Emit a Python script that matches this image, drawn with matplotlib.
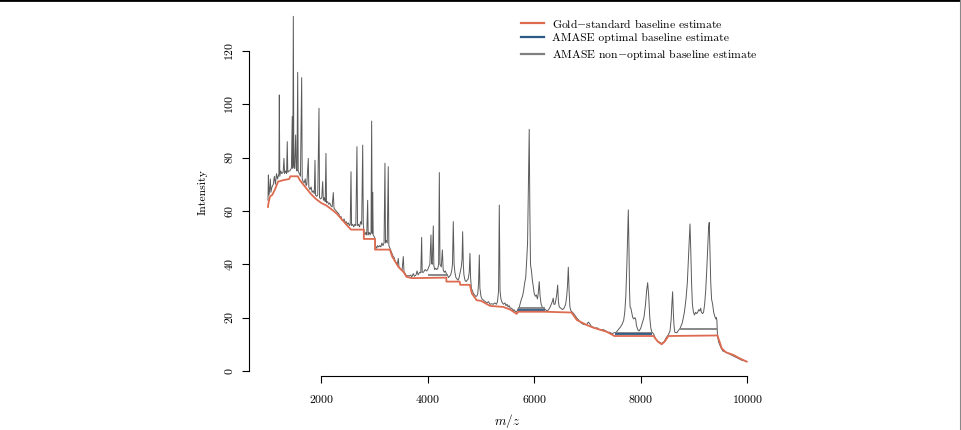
import matplotlib
matplotlib.use("Agg")
import matplotlib.pyplot as plt
from matplotlib.lines import Line2D

plt.rcParams['font.family'] = 'cmr10'
plt.rcParams['mathtext.fontset'] = 'cm'
plt.rcParams['axes.formatter.use_mathtext'] = True

# raw spectrum (m/z, intensity)
spec_mz = [1000, 1008, 1015, 1030, 1045, 1055, 1075, 1100, 1120, 1140, 1160, 1180, 1205, 1213, 1222,
           1240, 1260, 1285, 1300, 1312, 1330, 1350, 1362, 1372, 1390, 1410, 1440, 1456, 1466, 1476,
           1486, 1500, 1520, 1530, 1545, 1558, 1568, 1590, 1610, 1633, 1643, 1660, 1680, 1700, 1715,
           1730, 1757, 1767, 1790, 1810, 1830, 1850, 1870, 1883, 1893, 1915, 1935, 1958, 1968, 1990,
           2010, 2027, 2040, 2060, 2075, 2089, 2099, 2120, 2140, 2160, 2180, 2205, 2227, 2240, 2260,
           2280, 2300, 2330, 2350, 2370, 2390, 2410, 2430, 2450, 2470, 2490, 2510, 2530, 2545, 2559,
           2570, 2590, 2610, 2630, 2650, 2671, 2682, 2700, 2720, 2740, 2760, 2779, 2790, 2805, 2820,
           2840, 2855, 2872, 2882, 2900, 2920, 2935, 2947, 2958, 2966, 2976, 2990, 3005, 3020, 3040,
           3060, 3080, 3100, 3120, 3140, 3160, 3180, 3197, 3207, 3220, 3240, 3259, 3270, 3290, 3310,
           3330, 3350, 3370, 3390, 3410, 3430, 3447, 3460, 3480, 3500, 3520, 3541, 3555, 3570, 3590,
           3610, 3630, 3650, 3680, 3700, 3730, 3750, 3780, 3800, 3820, 3850, 3870, 3886, 3896, 3920,
           3950, 3980, 4000, 4020, 4040, 4061, 4072, 4085, 4105, 4115, 4130, 4150, 4170, 4190, 4205,
           4218, 4230, 4255, 4275, 4290, 4310, 4330, 4350, 4370, 4390, 4410, 4430, 4450, 4465, 4480,
           4495, 4510, 4530, 4550, 4570, 4590, 4610, 4630, 4645, 4656, 4668, 4680, 4700, 4720, 4740,
           4760, 4780, 4793, 4805, 4820, 4840, 4860, 4880, 4900, 4920, 4940, 4955, 4969, 4980, 5000,
           5020, 5050, 5080, 5110, 5140, 5170, 5200, 5230, 5260, 5290, 5310, 5330, 5344, 5358, 5375,
           5390, 5420, 5450, 5470, 5490, 5510, 5530, 5550, 5580, 5600, 5620, 5640, 5660, 5680, 5700,
           5720, 5740, 5760, 5780, 5800, 5820, 5840, 5860, 5875, 5890, 5906, 5918, 5930, 5945, 5953,
           5965, 5980, 6000, 6020, 6040, 6060, 6075, 6094, 6110, 6130, 6150, 6180, 6210, 6240, 6270,
           6300, 6320, 6340, 6357, 6370, 6390, 6410, 6425, 6440, 6455, 6470, 6500, 6530, 6560, 6590,
           6610, 6625, 6640, 6655, 6670, 6690, 6720, 6760, 6800, 6840, 6880, 6920, 6960, 6990, 7015,
           7040, 7070, 7100, 7140, 7180, 7220, 7260, 7300, 7340, 7380, 7420, 7460, 7500, 7540, 7580,
           7620, 7650, 7680, 7700, 7720, 7740, 7755, 7767, 7780, 7790, 7800, 7815, 7830, 7850, 7870,
           7890, 7905, 7920, 7945, 7970, 8000, 8030, 8060, 8090, 8110, 8130, 8150, 8170, 8190, 8210,
           8240, 8280, 8330, 8393, 8440, 8480, 8520, 8550, 8570, 8585, 8599, 8612, 8625, 8640, 8680,
           8700, 8740, 8780, 8820, 8850, 8875, 8895, 8912, 8925, 8940, 8955, 8970, 8990, 9010, 9030,
           9050, 9070, 9090, 9110, 9126, 9140, 9160, 9180, 9200, 9220, 9240, 9260, 9275, 9287, 9300,
           9315, 9330, 9350, 9370, 9390, 9410, 9420, 9430, 9440, 9460, 9500, 9540, 9600, 9650, 9700,
           9750, 9800, 9850, 9900, 9950, 9990]
spec_int = [64, 73.5, 66, 68, 72, 67, 69, 70, 73, 70, 74, 72, 74, 103.5, 73,
            75, 74, 74.5, 79.7, 74, 75, 74, 86, 74.5, 75, 75, 76, 95.4, 76, 133,
            77, 76, 88.5, 76, 75, 112, 75, 74, 73, 110, 72, 71, 70.5, 72, 69.5,
            70, 79.7, 69, 68, 69, 67, 67.5, 66.5, 79, 66, 65.5, 66, 98.5, 65, 64.5,
            65, 71, 64, 65, 63.5, 81.6, 63, 63.5, 62.5, 63, 62, 61.5, 66.9, 61, 60.5,
            60, 59.5, 59, 57.5, 58, 56.5, 56.3, 57, 55.5, 56, 55, 55.5, 54.5, 55, 74.7,
            54.5, 55, 54, 55, 54.5, 84.1, 54.5, 55, 54, 56, 55, 84.7, 55, 52, 51,
            52, 51, 64, 51, 52, 51, 52, 93.7, 51.5, 67, 51, 50.5, 50, 47, 46,
            47, 46.5, 47, 46.5, 48, 47, 48, 77.9, 48, 49, 48, 76.6, 47, 46, 45,
            44, 43, 42.5, 41, 40.5, 40, 42.2, 39, 38.5, 38, 38, 42.9, 37, 36.8, 36,
            35.5, 35.8, 35.5, 36, 35.2, 36.5, 35.5, 36, 37.5, 36, 37, 36.8, 50.1, 37, 37,
            38, 37.5, 38, 39, 40, 51, 40.5, 40, 54.4, 39.5, 38, 38.5, 38, 38.5, 40,
            74.4, 40, 39, 45.4, 38, 37, 37.5, 36.5, 36, 35, 35.5, 36, 37.5, 40, 56,
            40, 37, 35, 34.5, 34, 35, 37, 39, 42, 52.2, 40, 36, 34, 33.5, 34,
            34.5, 37, 44.1, 35, 31, 30, 29, 28.5, 28, 28, 29, 33, 43.5, 31, 28,
            27, 26.5, 26, 25.5, 26, 25, 25.2, 25, 25.5, 25, 26, 30, 62.2, 30, 27,
            26, 25, 25.5, 24.5, 25, 24, 24.5, 23.5, 23.5, 22.5, 23, 22.5, 22, 22.5, 23.5,
            24, 25.5, 27, 28, 30, 33, 35, 42, 48, 70, 90.6, 60, 40, 38, 36.6,
            34, 32, 29, 28, 28.5, 27, 29, 33.5, 28, 25, 24, 23.5, 23, 22.5, 23,
            24, 25, 26, 27.3, 25, 25, 27, 29, 32.2, 26, 24, 23.5, 23, 23.5, 25,
            28, 32, 38.9, 30, 24, 22.5, 22, 21, 19.8, 19, 18, 17.5, 17.3, 17.5, 18.3,
            17.8, 16.8, 16.5, 16, 16.2, 15.5, 15.3, 15.5, 15, 14.5, 14.5, 14, 14.3, 14.5, 15.5,
            16.5, 17.5, 19, 22, 28, 40, 52, 60.4, 45, 30, 24, 23.5, 22, 20, 19.5,
            20, 19.4, 17, 15.5, 15, 16, 18, 20, 25, 30, 33.1, 28, 20, 16, 14.5,
            14, 12, 11, 10.3, 11, 12.5, 13.6, 15, 19, 25, 29.7, 22, 17, 14.5, 14.3,
            15, 16, 18, 22, 27, 33, 42, 50, 55.1, 45, 33, 25, 22, 21, 22,
            21.5, 22, 23, 22.5, 23.5, 22, 21.5, 22, 25, 30, 38, 47, 54, 55.7, 45,
            33, 27, 25, 22, 20.5, 19.5, 20, 19, 14, 11, 9, 7.5, 7, 6.5, 6,
            5.5, 5, 4.5, 4, 3.8, 3.5]

# gold-standard baseline
base_mz = [1000, 1010, 1040, 1080, 1130, 1190, 1280, 1400, 1420, 1560, 1600, 1700, 1800, 1900, 2000,
           2100, 2200, 2290, 2380, 2480, 2560, 2800, 2800, 3010, 3010, 3290, 3330, 3450, 3550, 3600,
           3700, 4350, 4350, 4600, 4610, 4790, 4830, 4920, 5000, 5170, 5420, 5550, 5670, 5700, 6200,
           6700, 6800, 6990, 7100, 7360, 7490, 7500, 8240, 8320, 8393, 8450, 8520, 9440, 9480, 9520,
           9600, 9740, 9850, 9990]
base_int = [61.5, 63, 65.5, 66, 68, 71, 71.5, 72, 73, 73, 71.5, 69, 66.5, 64.5, 63,
            62, 60.5, 59, 57, 54.7, 53, 53, 49.5, 49.5, 45.5, 45.5, 43, 39, 37, 35.3,
            34.8, 35, 33.5, 33.5, 32.3, 32.3, 29, 26.5, 26.3, 24.4, 24.0, 23, 21.4, 22.2, 22.2,
            21.9, 19.1, 17.2, 16.3, 14.7, 13.3, 13.1, 13.1, 11, 10, 11, 13.1, 13.3, 11, 8.5,
            7, 6, 4.8, 3.5]

# AMASE optimal estimate where it departs from the gold standard
opt_start = [5700, 7520]
opt_end = [6200, 8220]
opt_level = [22.8, 13.8]

# AMASE non-optimal estimate where it departs from the gold standard
nonopt_start = [4010, 5700, 7520, 8740]
nonopt_end = [4390, 6200, 8210, 9440]
nonopt_level = [36.0, 23.6, 14.3, 15.7]

x_ticks = [2000, 4000, 6000, 8000, 10000]
y_ticks = [0, 20, 40, 60, 80, 100, 120]

c_gold = '#DD6B4F'
c_opt = '#2C5985'
c_non = '#7F7F7F'

fig = plt.figure(figsize=(9.62, 4.30), dpi=100)
ax = fig.add_axes([248.8 / 962, 54 / 430, 517.6 / 962, 367.7 / 430])

ax.plot(spec_mz, spec_int, color='#5a5a5a', lw=0.7)
ax.hlines(nonopt_level, nonopt_start, nonopt_end, color=c_non, lw=1.3)
ax.hlines(opt_level, opt_start, opt_end, color=c_opt, lw=1.3)
ax.plot(base_mz, base_int, color=c_gold, lw=1.3)

ax.set_xlim(640, 10360)
ax.set_ylim(-1.9, 136)

ax.spines['top'].set_visible(False)
ax.spines['right'].set_visible(False)
ax.spines['left'].set_bounds(0, 120)
ax.spines['bottom'].set_bounds(2000, 10000)
ax.set_xticks(x_ticks)
ax.set_yticks(y_ticks)
ax.tick_params(direction='out', length=5, width=0.8, labelsize=8.5, pad=5)
ax.tick_params(axis='x', pad=7)
for lab in ax.get_yticklabels():
    lab.set_rotation(90)
    lab.set_va('center')

ax.set_xlabel('$m/z$', fontsize=9.5, labelpad=5)
ax.set_ylabel('Intensity', fontsize=8.5, labelpad=11)

handles = [Line2D([], [], color=c_gold, lw=1.6),
           Line2D([], [], color=c_opt, lw=1.6),
           Line2D([], [], color=c_non, lw=1.6)]
labels = ['Gold$-$standard baseline estimate',
          'AMASE optimal baseline estimate',
          'AMASE non$-$optimal baseline estimate']
fig.legend(handles, labels, loc='upper left', bbox_to_anchor=(511 / 962, 1 - 6 / 430),
           frameon=False, fontsize=8.4, handlelength=1.9, labelspacing=0.3, handletextpad=0.7)

# border of the figure panel
fig.add_artist(Line2D([0, 1], [0.999, 0.999], color='black', lw=2, transform=fig.transFigure))
fig.add_artist(Line2D([0.999, 0.999], [0, 1], color='#888888', lw=1.5, transform=fig.transFigure))

fig.savefig('out.png', dpi=100)
